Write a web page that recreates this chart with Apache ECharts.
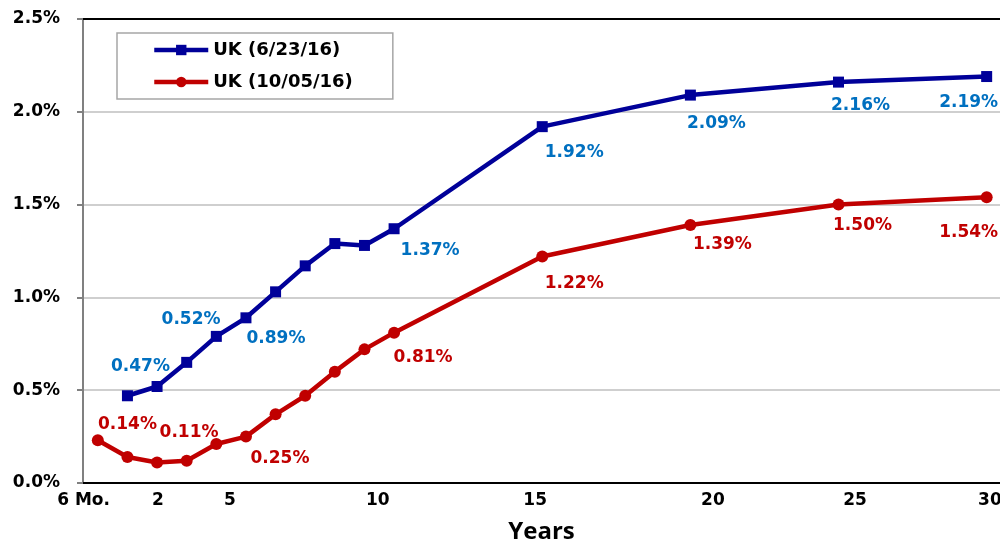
<!DOCTYPE html>
<html>
<head>
<meta charset="utf-8">
<script src="https://cdn.jsdelivr.net/npm/echarts@6/dist/echarts.min.js"></script>
<style>
html,body{margin:0;padding:0;background:#fff;}
#chart{width:1000px;height:544px;}
</style>
</head>
<body>
<div id="chart"></div>
<script>
// ---- data ----
const maturities = [0, 1, 2, 3, 4, 5, 6, 7, 8, 9, 10, 15, 20, 25, 30];
const junMaturities = [1, 2, 3, 4, 5, 6, 7, 8, 9, 10, 15, 20, 25, 30];
const ukJun = [0.47, 0.52, 0.65, 0.79, 0.89, 1.03, 1.17, 1.29, 1.28, 1.37, 1.92, 2.09, 2.16, 2.19];
const ukOct = [0.23, 0.14, 0.11, 0.12, 0.21, 0.25, 0.37, 0.47, 0.60, 0.72, 0.81, 1.22, 1.39, 1.50, 1.54];
const tickLabels = ['6 Mo.', '2', '5', '10', '15', '20', '25', '30'];
const tickPositions = [-0.48, 2.03, 4.46, 9.45, 14.76, 20.76, 25.56, 30.11];
const seriesNames = ['UK (6/23/16)', 'UK (10/05/16)'];

// ---- label placement (style) ----
const junLabelOffsets = {1:[13,-29], 2:[34,-67], 5:[30,21], 10:[36,22], 15:[32,26], 20:[26,28], 25:[22,23], 30:[-18,26]};
const octLabelOffsets = {1:[0,-32], 2:[32,-30], 5:[34,22], 10:[29,25], 15:[32,27], 20:[32,20], 25:[24,21], 30:[-18,35]};

const BLUE = '#000099', RED = '#C00000', BLUE_LBL = '#0070C0';
const AXFONT = 'DejaVu Sans';

function buildData(xs, ys, offsets, color) {
  return xs.map((x, i) => {
    const item = { value: [x, ys[i]] };
    if (offsets[x]) {
      item.label = {
        show: true, position: 'inside', offset: offsets[x],
        formatter: (p) => p.value[1].toFixed(2) + '%',
        color: color, fontFamily: AXFONT, fontWeight: 'bold', fontSize: 17
      };
    }
    return item;
  });
}

const chart = echarts.init(document.getElementById('chart'));
chart.setOption({
  animation: false,
  backgroundColor: '#fff',
  grid: { left: 83, right: 0, top: 19, bottom: 61, containLabel: false, outerBoundsMode: 'none' },
  legend: {
    orient: 'vertical', left: 117, top: 33,
    data: seriesNames,
    padding: [8, 40, 8, 35],
    itemGap: 14, itemWidth: 54, itemHeight: 13,
    borderColor: '#a6a6a6', borderWidth: 1.5,
    lineStyle: { width: 4.5 },
    textStyle: { fontFamily: AXFONT, fontWeight: 'bold', fontSize: 18, color: '#000' }
  },
  xAxis: [{
    type: 'value', min: -0.5, max: 30.45,
    axisLine: { show: true, onZero: false, lineStyle: { color: '#000', width: 2 } },
    axisTick: { show: false },
    splitLine: { show: false },
    axisLabel: {
      customValues: tickPositions,
      formatter: (v) => {
        const i = tickPositions.findIndex(p => Math.abs(p - v) < 1e-6);
        return i >= 0 ? tickLabels[i] : '';
      },
      color: '#000', fontFamily: AXFONT, fontWeight: 'bold', fontSize: 17, margin: 9
    },
    name: 'Years', nameLocation: 'middle', nameGap: 37,
    nameTextStyle: { color: '#000', fontFamily: 'Open Sans', fontWeight: 'bold', fontSize: 24 }
  }, {
    type: 'value', position: 'top', min: -0.5, max: 30.45,
    axisLine: { show: true, onZero: false, lineStyle: { color: '#000', width: 2 } },
    axisTick: { show: false }, axisLabel: { show: false }, splitLine: { show: false }
  }],
  yAxis: {
    type: 'value', min: 0, max: 2.5, interval: 0.5,
    axisLine: { show: true, onZero: false, lineStyle: { color: '#808080', width: 2 } },
    axisTick: { show: true, length: 6, lineStyle: { color: '#808080', width: 2 } },
    splitLine: { show: true, lineStyle: { color: '#bfbfbf', width: 1.5 } },
    axisLabel: {
      formatter: (v) => v.toFixed(1) + '%',
      color: '#000', fontFamily: AXFONT, fontWeight: 'bold', fontSize: 17, margin: 23
    }
  },
  series: [{
    name: seriesNames[0], type: 'line',
    data: buildData(junMaturities, ukJun, junLabelOffsets, BLUE_LBL),
    symbol: 'rect', symbolSize: 11, showAllSymbol: true,
    itemStyle: { color: BLUE }, lineStyle: { color: BLUE, width: 4.5 },
    label: { show: false }, z: 3
  }, {
    name: seriesNames[1], type: 'line',
    data: buildData(maturities, ukOct, octLabelOffsets, RED),
    symbol: 'circle', symbolSize: 12, showAllSymbol: true,
    itemStyle: { color: RED }, lineStyle: { color: RED, width: 4.5 },
    label: { show: false }, z: 3
  }]
});
</script>
</body>
</html>
